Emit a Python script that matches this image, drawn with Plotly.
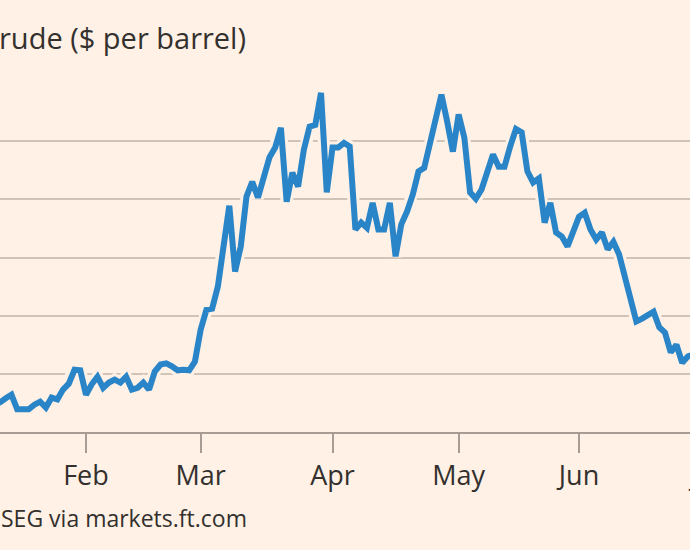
import pandas as pd
import plotly.graph_objects as go

# Daily prices (one value per weekday)
start_date = "2021-01-08"
prices = [
    63.9, 65.1, 65.8, 66.4, 63.9, 63.9, 63.9, 64.7, 65.2, 64.2,
    65.9, 65.6, 67.3, 68.3, 70.7, 70.6, 66.4, 68.2, 69.5, 67.6,
    68.5, 69.0, 68.5, 69.5, 67.3, 67.6, 68.5, 67.3, 70.4, 71.6,
    71.8, 71.3, 70.6, 70.7, 70.6, 72.1, 77.6, 81.0, 81.2, 85.0,
    92.9, 98.9, 87.6, 91.9, 100.5, 103.0, 100.3, 103.4, 107.2, 108.9,
    112.3, 99.6, 104.6, 102.2, 108.5, 112.5, 112.8, 118.3, 101.2, 108.9,
    108.9, 109.7, 109.1, 94.8, 96.0, 95.1, 99.4, 94.8, 94.8, 99.4,
    90.2, 95.7, 97.9, 100.8, 104.8, 105.4, 109.7, 113.2, 118.0, 113.4,
    108.2, 114.6, 110.6, 101.2, 100.1, 101.7, 104.6, 107.7, 105.6, 105.6,
    109.1, 112.1, 111.5, 104.8, 102.9, 103.6, 96.0, 99.4, 94.3, 93.6,
    91.9, 94.8, 97.0, 97.7, 94.8, 93.1, 94.3, 91.4, 92.7, 90.5,
    86.9, 82.6, 79.0, 79.5, 80.0, 80.7, 78.0, 77.1, 73.7, 75.0,
    71.9, 73.0, 73.3,
]
dates = pd.bdate_range(start_date, periods=len(prices))

tick_dates = ["2021-02-01", "2021-03-01", "2021-04-01", "2021-05-03", "2021-06-01"]
tick_labels = ["Feb", "Mar", "Apr", "May", "Jun"]
grid_values = [70, 80, 90, 100, 110]

BG = "#fff1e5"
TEXT = "#33302e"
LINE = "#2a85c8"
FONT = "Open Sans"

fig = go.Figure()
# background-coloured halo under the line (breaks the gridlines)
fig.add_trace(go.Scatter(x=dates, y=prices, mode="lines",
                         line=dict(color=BG, width=12), hoverinfo="skip",
                         showlegend=False))
fig.add_trace(go.Scatter(x=dates, y=prices, mode="lines",
                         line=dict(color=LINE, width=6), showlegend=False))

fig.update_layout(
    width=690, height=550,
    paper_bgcolor=BG, plot_bgcolor=BG,
    margin=dict(l=0, r=0, t=83, b=118),
    font=dict(family=FONT, color=TEXT),
    showlegend=False,
    xaxis=dict(
        type="date",
        range=["2021-01-11", "2021-06-28 08:40"],
        rangebreaks=[dict(bounds=["sat", "mon"])],
        tickmode="array", tickvals=tick_dates, ticktext=tick_labels,
        ticks="outside", ticklen=19, tickwidth=2, tickcolor="#a79d94",
        showline=True, linecolor="#a79d94", linewidth=2,
        showgrid=False, zeroline=False,
        tickfont=dict(size=27, color=TEXT, family=FONT),
    ),
    yaxis=dict(
        range=[60, 120],
        tickmode="array", tickvals=grid_values,
        showticklabels=False, ticks="",
        showgrid=True, gridcolor="#d0c4b8", gridwidth=1.5,
        zeroline=False, showline=False,
    ),
)

fig.add_annotation(text="rude ($ per barrel)", xref="paper", yref="paper",
                   x=-0.004, y=1.129, xanchor="left", yanchor="middle",
                   showarrow=False, font=dict(size=29, color=TEXT, family=FONT))
fig.add_annotation(text="SEG via markets.ft.com", xref="paper", yref="paper",
                   x=-0.002, y=-0.246, xanchor="left", yanchor="middle",
                   showarrow=False, font=dict(size=23, color=TEXT, family=FONT))
# next month label, partly beyond the right edge
fig.add_annotation(text="Jul", xref="paper", yref="paper",
                   x=705 / 690, y=-0.125, xanchor="center", yanchor="middle",
                   showarrow=False, font=dict(size=27, color=TEXT, family=FONT))

fig.write_html("out.html")
